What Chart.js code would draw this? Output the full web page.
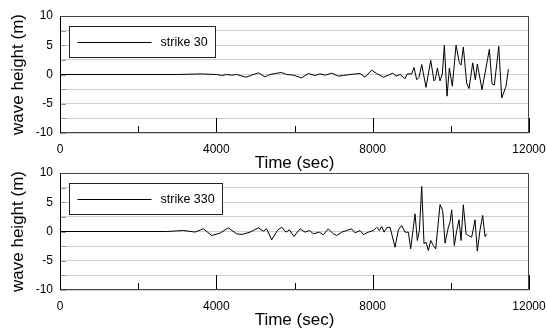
<!DOCTYPE html>
<html>
<head>
<meta charset="utf-8">
<script src="https://cdn.jsdelivr.net/npm/chart.js@4/dist/chart.umd.min.js"></script>
<style>
  html, body { margin: 0; padding: 0; background: #fff; }
  #wrap { position: relative; width: 547px; height: 332px; overflow: hidden; }
  canvas { position: absolute; left: 0; }
  #c30 { top: 0; }
  #c330 { top: 157px; }
</style>
</head>
<body>
<div id="wrap">
  <canvas id="c30" width="547" height="175"></canvas>
  <canvas id="c330" width="547" height="175"></canvas>
</div>
<script>
// time (sec) and wave height (m)
const time30 = [0, 3000, 3600, 4009, 4137, 4265, 4393, 4521, 4759, 4905, 5075, 5246, 5374,
  5502, 5672, 5800, 5970, 6184, 6354, 6525, 6653, 6781, 6951, 7122, 7250, 7421, 7677, 7804,
  7975, 8104, 8274, 8402, 8513, 8598, 8700, 8828, 8888, 8999, 9058, 9127, 9186, 9255, 9365,
  9485, 9570, 9604, 9655, 9724, 9783, 9834, 9903, 9962, 10039, 10133, 10218, 10261, 10320,
  10406, 10466, 10560, 10627, 10678, 10798, 10986, 11054, 11114, 11226, 11302, 11413, 11472];
const height30 = [0, 0, 0.1, 0, -0.17, 0, -0.11, 0, -0.46, -0.11, 0.28, -0.4, 0,
  0.17, 0.34, 0, -0.11, -0.57, 0.17, -0.17, 0.11, -0.11, 0.23, -0.28, -0.17, 0, 0.17, -0.46,
  0.74, 0.17, -0.46, -0.11, 0.23, -0.28, 0, -0.7, 0.1, 0.1, 1.2, -0.9, -0.5, 1.7, -2.2,
  2.4, -1.1, -0.8, 1.1, -1.1, 0.1, 5.0, -3.7, 1.1, -2.0, 5.0, 2.0, 1.6, 4.7,
  -1.5, -2.4, 2.0, -0.9, 1.8, -2.6, 4.3, -1.6, -1.8, 4.8, -4.0, -2.0, 0.9];

const time330 = [0, 2730, 3156, 3455, 3668, 3881, 4094, 4308, 4521, 4649, 4862, 5075, 5203,
  5288, 5416, 5561, 5672, 5783, 5868, 5987, 6141, 6269, 6380, 6482, 6636, 6738, 6866, 6994,
  7080, 7207, 7335, 7463, 7548, 7677, 7762, 7890, 8018, 8104, 8172, 8232, 8291, 8360, 8444,
  8572, 8657, 8743, 8828, 8913, 8973, 9084, 9143, 9195, 9255, 9314, 9365, 9425, 9485, 9553,
  9613, 9724, 9792, 9852, 9937, 9980, 10022, 10090, 10150, 10210, 10261, 10320, 10389, 10448,
  10534, 10619, 10678, 10747, 10815, 10875, 10918];
const height330 = [0, 0, 0.17, -0.1, 0.46, -0.68, -0.28, 0.63, -0.4, -0.51, -0.11, 0.63, 0.06,
  0.46, -1.42, 0.17, 0.74, -0.11, 0.28, -0.85, 0.46, -0.11, 0.17, -0.4, -0.11, -0.57, 0.46, -0.4,
  -0.68, -0.11, 0.17, 0.46, -0.23, 0.17, -0.51, -0.11, 0.17, 0.74, 0.17, 0.85, -0.11, 0.63, 0.74,
  -2.68, 0.28, 1.03, -0.11, -0.11, -2.96, 3.02, -1.54, 0.17, 7.7, -2.11, -1.82, -3.25, -1.54, -2.4,
  -2.96, 4.6, 3.56, -2.0, 0.74, 1.6, 3.7, -2.4, 0.17, 2.0, -1.54, 4.56, -0.4, -0.68,
  -0.97, 2.0, -3.36, 0.28, 2.74, -0.85, -0.4];

const xTicks = [0, 4000, 8000, 12000];
const yTicks = [-10, -5, 0, 5, 10];

const FONT = '"Liberation Sans", Arial, sans-serif';

// frame, inward tick marks and boxed legend
const framePlugin = {
  id: 'frame',
  afterDatasetsDraw(chart) {
    const ctx = chart.ctx;
    const a = chart.chartArea;
    const xs = chart.scales.x, ys = chart.scales.y;
    ctx.save();
    ctx.lineWidth = 1;
    // y tick marks
    ctx.strokeStyle = '#999';
    ys.ticks.forEach(t => {
      const y = Math.round(ys.getPixelForValue(t.value)) + 0.5;
      ctx.beginPath();
      ctx.moveTo(a.left, y);
      ctx.lineTo(a.left + 6, y);
      ctx.stroke();
    });
    // x tick marks
    ctx.strokeStyle = '#000';
    xs.ticks.forEach(t => {
      const x = Math.round(xs.getPixelForValue(t.value)) + 0.5;
      const len = xTicks.includes(t.value) ? 15 : 7;
      ctx.beginPath();
      ctx.moveTo(x, a.bottom);
      ctx.lineTo(x, a.bottom - len);
      ctx.stroke();
    });
    // frame
    const l = Math.round(a.left) + 0.5, r = Math.round(a.right) - 0.5;
    const t = Math.round(a.top) + 0.5, b = Math.round(a.bottom) - 0.5;
    ctx.strokeStyle = '#444';
    ctx.beginPath();
    ctx.moveTo(l, t); ctx.lineTo(r, t); ctx.lineTo(r, b); ctx.lineTo(l, b);
    ctx.stroke();
    ctx.strokeStyle = '#000';
    ctx.beginPath();
    ctx.moveTo(l, t); ctx.lineTo(l, b);
    ctx.stroke();
    // legend
    const label = chart.data.datasets[0].label;
    ctx.font = '12.5px ' + FONT;
    const tw = ctx.measureText(label).width;
    const bx = Math.round(a.left + 9) + 0.5, by = Math.round(a.top + 10) + 0.5;
    const bw = Math.round(91 + tw + 8), bh = 31;
    ctx.fillStyle = '#fff';
    ctx.fillRect(bx, by, bw, bh);
    ctx.strokeStyle = '#222';
    ctx.strokeRect(bx, by, bw, bh);
    const ly = Math.round(by + bh / 2) + 0.5;
    ctx.strokeStyle = '#000';
    ctx.beginPath();
    ctx.moveTo(bx + 8, ly);
    ctx.lineTo(bx + 82, ly);
    ctx.stroke();
    ctx.fillStyle = '#000';
    ctx.textBaseline = 'middle';
    ctx.fillText(label, bx + 91, ly);
    ctx.restore();
  }
};

function makeChart(id, label, times, heights) {
  const points = times.map((t, i) => ({ x: t, y: heights[i] }));
  return new Chart(document.getElementById(id), {
    type: 'line',
    data: {
      datasets: [{
        label: label,
        data: points,
        borderColor: '#000',
        borderWidth: 1,
        pointRadius: 0,
        tension: 0,
        fill: false
      }]
    },
    options: {
      responsive: false,
      animation: false,
      devicePixelRatio: 1,
      layout: { padding: { top: 16, right: 18, left: 0, bottom: 0 } },
      plugins: { legend: { display: false }, tooltip: { enabled: false } },
      scales: {
        x: {
          type: 'linear',
          min: 0,
          max: 12000,
          afterFit: s => { s.height = 42; s.paddingLeft = 0; s.paddingRight = 0; },
          grid: { display: false, drawTicks: false },
          border: { display: false },
          ticks: {
            stepSize: 2000,
            padding: 9,
            color: '#000',
            font: { family: FONT, size: 12 },
            maxRotation: 0,
            autoSkip: false,
            callback: v => xTicks.includes(v) ? String(v) : ''
          },
          title: {
            display: true,
            text: 'Time (sec)',
            color: '#000',
            font: { family: FONT, size: 17 },
            padding: { top: 0, bottom: 1 }
          }
        },
        y: {
          min: -10,
          max: 10,
          afterFit: s => { s.width = 60; s.paddingTop = 0; s.paddingBottom = 0; },
          grid: { color: '#d0d0d0', drawTicks: false },
          border: { display: false },
          ticks: {
            stepSize: 2.5,
            padding: 7,
            color: '#000',
            font: { family: FONT, size: 12 },
            autoSkip: false,
            callback: v => yTicks.includes(v) ? String(v) : ''
          },
          title: {
            display: true,
            text: 'wave height (m)',
            color: '#000',
            font: { family: FONT, size: 17 },
            padding: { top: 8, bottom: 0 }
          }
        }
      }
    },
    plugins: [framePlugin]
  });
}

makeChart('c30', 'strike 30', time30, height30);
makeChart('c330', 'strike 330', time330, height330);
</script>
</body>
</html>
